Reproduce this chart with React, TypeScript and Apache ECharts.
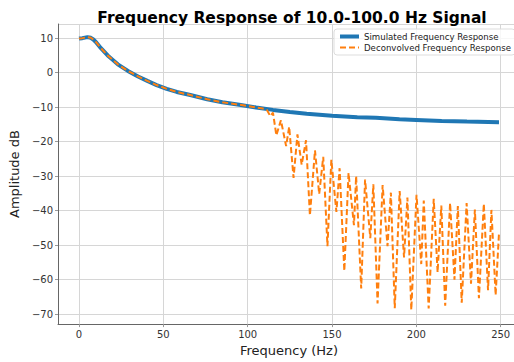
import React, { useEffect, useRef } from "react";
import * as echarts from "echarts";

const titleText = "Frequency Response of 10.0-100.0 Hz Signal";
const seriesNames = ["Simulated Frequency Response", "Deconvolved Frequency Response"];

const simFreq = [0, 2, 5, 7, 8.5, 10, 13, 17, 20, 23, 29, 35, 40.5, 46, 52, 58, 66, 76, 85, 95, 105, 115, 125, 135, 150, 165, 176, 190, 200, 215, 230, 249];
const simDb = [9.9, 10.0, 10.3, 10.1, 9.6, 8.9, 7.1, 5.0, 3.7, 2.4, 0.5, -1.1, -2.4, -3.6, -4.7, -5.6, -6.5, -7.7, -8.6, -9.3, -10.1, -10.8, -11.4, -11.9, -12.5, -12.9, -13.1, -13.5, -13.7, -14.0, -14.2, -14.4];

const deconvFreq = [0, 2, 5, 7, 8.5, 10, 13, 17, 20, 23, 29, 35, 40.5, 46, 52, 58, 66, 76, 85, 95, 105, 108, 110, 111.5, 113.4, 115, 117, 119.7, 122.8, 124.6, 127.2, 129.5, 132, 134.6, 136.9, 139.9, 142.4, 144.8, 147.3, 149.6, 152.6, 154.5, 157.3, 159.8, 163, 164.3, 167.3, 169.6, 172.7, 174.5, 177, 180, 182.9, 184.9, 187.2, 190.1, 192.7, 194.7, 197, 200.1, 202.9, 204.4, 207.3, 210.3, 212.6, 214.8, 217.1, 220, 222.6, 224.6, 226.9, 229.8, 232.4, 234.7, 237.1, 240, 242.5, 244.5, 247, 249];
const deconvDb = [9.9, 10.0, 10.3, 10.1, 9.6, 8.9, 7.1, 5.0, 3.7, 2.4, 0.5, -1.1, -2.4, -3.6, -4.7, -5.6, -6.5, -7.7, -8.6, -9.3, -10.1, -10.3, -10.5, -10.9, -12.6, -11.6, -18.2, -13.8, -21.3, -15.7, -30.5, -17.9, -26.7, -19.6, -41.4, -22.5, -35.2, -24.4, -50.3, -25.3, -40.4, -27.7, -57.5, -29.1, -44.2, -30.0, -62.6, -31.0, -48.0, -32.4, -66.9, -32.6, -50.3, -34.8, -68.3, -34.3, -53.6, -36.2, -68.8, -35.4, -55.5, -37.1, -68.4, -36.6, -57.9, -38.5, -67.6, -37.8, -60.0, -38.7, -66.7, -37.8, -61.2, -39.7, -65.4, -38.0, -63.1, -39.8, -64.5, -46.5];

const xLabel = "Frequency (Hz)";
const yLabel = "Amplitude dB";

const FONT = "DejaVu Sans";

const fmt = (v: number) => (v < 0 ? "\u2212" + Math.abs(v) : String(v));

export default function App() {
  const ref = useRef<HTMLDivElement>(null);
  useEffect(() => {
    if (!ref.current) return;
    const chart = echarts.init(ref.current, null, { renderer: "svg" });
    const axisCommon = {
      type: "value" as const,
      axisLine: { show: true, onZero: false, lineStyle: { color: "#666", width: 1 } },
      axisTick: { show: true, length: 3, lineStyle: { color: "#999" } },
      axisLabel: {
        color: "#333",
        fontSize: 10,
        fontFamily: FONT,
        showMinLabel: false,
        showMaxLabel: false,
        formatter: fmt,
      },
      splitLine: { show: true, lineStyle: { color: "#d6d6d6", width: 1 } },
      nameLocation: "middle" as const,
      nameTextStyle: { fontSize: 13, color: "#222", fontFamily: FONT },
    };
    chart.setOption({
      animation: false,
      backgroundColor: "#fff",
      title: {
        text: titleText,
        left: 287,
        textAlign: "center",
        top: 5,
        textStyle: { fontSize: 15.5, fontWeight: "bold", color: "#000", fontFamily: FONT },
      },
      legend: {
        left: 334,
        top: 29,
        orient: "vertical",
        itemGap: 2,
        itemWidth: 19,
        itemHeight: 10,
        padding: [3, 4, 3, 4],
        borderColor: "#ddd",
        borderWidth: 1,
        borderRadius: 3,
        backgroundColor: "rgba(255,255,255,0.8)",
        itemStyle: { opacity: 0 },
        textStyle: { fontSize: 8.6, color: "#222", fontFamily: FONT },
        data: [
          { name: seriesNames[0], lineStyle: { width: 4 } },
          { name: seriesNames[1], lineStyle: { width: 2 } },
        ],
      },
      grid: { left: 54, right: 0, top: 24, bottom: 31, containLabel: false },
      xAxis: {
        ...axisCommon,
        min: -12.45,
        max: 261.45,
        splitNumber: 5,
        name: xLabel,
        nameGap: 13,
        axisLabel: { ...axisCommon.axisLabel, margin: 5 },
      },
      yAxis: {
        ...axisCommon,
        min: -72.9,
        max: 14.1,
        splitNumber: 9,
        name: yLabel,
        nameGap: 28,
        axisLabel: { ...axisCommon.axisLabel, margin: 5 },
      },
      series: [
        {
          name: seriesNames[0],
          type: "line",
          data: simFreq.map((f, i) => [f, simDb[i]]),
          showSymbol: false,
          symbol: "none",
          lineStyle: { color: "#1f77b4", width: 4 },
          itemStyle: { color: "#1f77b4" },
          z: 2,
        },
        {
          name: seriesNames[1],
          type: "line",
          data: deconvFreq.map((f, i) => [f, deconvDb[i]]),
          showSymbol: false,
          symbol: "none",
          lineStyle: { color: "#ff7f0e", width: 2, type: [6, 3] },
          itemStyle: { color: "#ff7f0e" },
          z: 3,
        },
      ],
    });
    return () => chart.dispose();
  }, []);
  return (
    <div style={{ position: "fixed", left: 0, top: 0, width: 514, height: 362, overflow: "hidden", background: "#fff" }}>
      <div ref={ref} style={{ width: 520, height: 362 }} />
    </div>
  );
}
